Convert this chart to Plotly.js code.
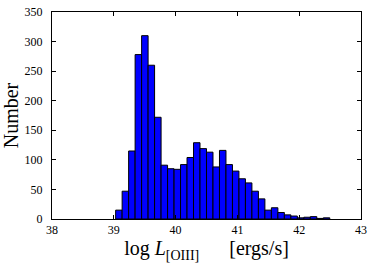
<!DOCTYPE html>
<html>
<head>
<meta charset="utf-8">
<script src="https://cdn.plot.ly/plotly-3.0.1.min.js"></script>
<style>html,body{margin:0;padding:0;background:#fff;}#chart{width:374px;height:266px;}</style>
</head>
<body>
<div id="chart"></div>
<script>
// Histogram data
const binStart = 39.03;   // left edge of first bin (log L)
const binWidth = 0.105;   // bin width (log L)
const counts = [15, 47, 115, 278, 310, 260, 172, 91, 85, 84, 92, 104, 129, 119, 113, 88, 116, 92, 81, 68, 61, 47, 34, 15, 19, 11, 7, 5, 2, 3, 4, 1, 2];
const xTicks = [38, 39, 40, 41, 42, 43];
const yTicks = [0, 50, 100, 150, 200, 250, 300, 350];

const centers = counts.map((_, i) => binStart + binWidth * (i + 0.5));

const serif = 'Liberation Serif, Times New Roman, serif';

const trace = {
  type: 'bar',
  x: centers,
  y: counts,
  width: binWidth,
  marker: { color: '#0000ff', line: { color: '#000000', width: 1 } },
  hoverinfo: 'skip'
};

const layout = {
  width: 374, height: 266,
  margin: { l: 52, r: 13, t: 12, b: 47 },
  paper_bgcolor: '#ffffff', plot_bgcolor: '#ffffff',
  showlegend: false,
  bargap: 0,
  font: { family: serif, color: '#000000', size: 12 },
  xaxis: {
    range: [38, 43], tickvals: xTicks, ticktext: xTicks.map(String),
    ticks: 'inside', ticklen: 4, tickcolor: '#000', tickwidth: 1,
    showline: true, linecolor: '#000', linewidth: 1, mirror: 'ticks',
    showgrid: false, zeroline: false,
    tickfont: { family: serif, size: 12 },
    title: { text: 'log <i>L</i><sub>[OIII]</sub>&nbsp;&nbsp;&nbsp;&nbsp;&nbsp;&nbsp;[ergs/s]', font: { family: serif, size: 20 }, standoff: 2 }
  },
  yaxis: {
    range: [0, 350], tickvals: yTicks, ticktext: yTicks.map(String),
    ticks: 'inside', ticklen: 4, tickcolor: '#000', tickwidth: 1,
    showline: true, linecolor: '#000', linewidth: 1, mirror: 'ticks',
    showgrid: false, zeroline: false,
    ticklabelstandoff: 6,
    tickfont: { family: serif, size: 12 },
    title: { text: 'Number', font: { family: serif, size: 20 }, standoff: 4 }
  }
};

Plotly.newPlot('chart', [trace], layout, { staticPlot: true, displayModeBar: false });
</script>
</body>
</html>
